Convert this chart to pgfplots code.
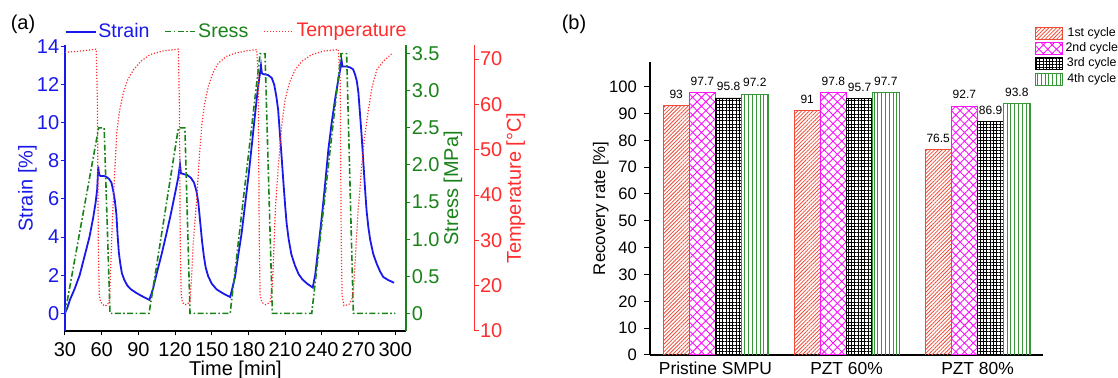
\documentclass[border=0pt]{standalone}
\usepackage{pgfplots}
\pgfplotsset{compat=1.18}
\usepackage{fontspec}
\setmainfont{Liberation Sans}
\usetikzlibrary{patterns.meta}
\definecolor{cblue}{RGB}{25,25,235}
\definecolor{cgreen}{RGB}{25,130,25}
\definecolor{cred}{RGB}{255,45,45}
\definecolor{bred}{RGB}{240,75,55}
\definecolor{bmag}{RGB}{250,20,250}
\definecolor{bgreen}{RGB}{55,150,55}
\pgfplotsset{
  boxlegend/.style={legend image code/.code={\draw[##1] (0pt,-3pt) rectangle (13.5pt,3pt);}},
  every axis/.append style={/pgf/number format/assume math mode=true},
}
\begin{document}
\begin{tikzpicture}
\useasboundingbox (0,0) rectangle (559pt,189pt);
\node[font=\fontsize{10}{12}\selectfont] at (11.5pt,177pt) {(a)};
\node[font=\fontsize{10}{12}\selectfont] at (287pt,177pt) {(b)};
% ---------- Strain axis
\begin{axis}[
  at={(32.5pt,23.5pt)}, anchor=south west, scale only axis,
  width=170.5pt, height=142.75pt,
  xmin=30, xmax=308.75, ymin=-0.93, ymax=14.05,
  axis x line*=bottom, axis y line*=left,
  tick align=outside, major tick length=2.2pt,
  xtick={30,60,90,120,150,180,210,240,270,300}, ytick={0,2,4,6,8,10,12,14},
  tick label style={font=\fontsize{10}{12}\selectfont},
  label style={font=\fontsize{10}{12}\selectfont},
  x axis line style={black, line width=0.6pt},
  y axis line style={cblue, line width=0.7pt},
  xtick style={black, line width=0.5pt},
  ytick style={cblue, line width=0.5pt},
  yticklabel style={cblue, inner sep=0.5pt},
  xlabel={Time [min]}, xlabel style={yshift=4.5pt},
  ylabel={Strain [\%]}, ylabel style={cblue}, ylabel shift=-4pt,
]
\addplot[cblue, line width=0.9pt, no marks] coordinates {
(30,0) (32,0.3) (34,0.7) (38,1.3) (42,2.0) (46,3.0) (50,4.0) (53,5.0) (55,5.8) (56.3,6.5) (57.2,7.7) (57.8,7.3) (59,7.2) (62,7.2) (64,7.15) (66,7.05) (68,6.85) (69.5,6.4) (70.8,5.9) (72,5.2) (73,4.1) (74,3.2) (75.2,2.6) (76.5,2.1) (78.5,1.75) (81,1.45) (84,1.25) (88,1.08) (92,0.93) (96,0.8) (99,0.7)
(102,1.3) (105,2.1) (109,3.1) (113,4.2) (116.5,5.2) (120,6.3) (122.5,7.1) (124,7.8) (124.8,7.35) (127,7.3) (130,7.25) (133,7.1) (135.5,6.85) (137.5,6.4) (139,5.8) (140.5,4.8) (142,3.8) (143.5,3.0) (145,2.4) (147,1.95) (150,1.55) (154,1.25) (159,1.05) (165,0.85)
(169,1.9) (171.5,3.0) (174.4,4.2) (177,5.6) (180,7.2) (182.5,8.7) (185.3,10.4) (187.5,11.7) (189.4,12.6) (190.2,13.0) (190.9,12.6) (192,12.55) (196,12.5) (199,12.35) (201,12.0) (202.7,11.4) (204.2,10.7) (205.8,9.3) (207.2,8.1) (208.5,6.9) (209.9,5.7) (211.2,4.7) (212.8,3.9) (215,3.1) (218,2.5) (221,2.05) (224,1.78) (228,1.55) (232.5,1.35)
(234.5,2.0) (237,3.4) (240,5.1) (242.5,6.7) (245.3,8.6) (248,10.0) (250.7,11.2) (253,12.1) (255,12.8) (256,13.3) (256.8,12.95) (260,12.95) (263,12.9) (265.5,12.8) (267,12.55) (268.5,12.2) (269.8,11.6) (271,10.6) (272.5,9.3) (274,7.8) (275.2,6.6) (276.5,5.4) (278,4.5) (279.5,3.85) (282,3.1) (284.8,2.6) (287.5,2.2) (290.2,1.9) (294,1.75) (299,1.6)
};
\end{axis}
% ---------- Stress axis
\begin{axis}[
  at={(32.5pt,23.5pt)}, anchor=south west, scale only axis,
  width=170.5pt, height=142.75pt,
  xmin=30, xmax=308.75, ymin=-0.238, ymax=3.61,
  axis x line=none, axis y line*=right,
  tick align=outside, major tick length=2.2pt,
  ytick={0,0.5,1,1.5,2,2.5,3,3.5}, yticklabels={0,0.5,1.0,1.5,2.0,2.5,3.0,3.5},
  tick label style={font=\fontsize{10}{12}\selectfont},
  label style={font=\fontsize{10}{12}\selectfont},
  y axis line style={cgreen, line width=0.7pt},
  ytick style={cgreen, line width=0.5pt},
  yticklabel style={cgreen, inner sep=0.5pt},
  ylabel={Stress [MPa]}, ylabel style={cgreen}, ylabel shift=-2pt,
]
\addplot[cgreen, line width=0.8pt, no marks, dash pattern=on 3pt off 1.2pt on 0.8pt off 1.2pt] coordinates {
(30,0) (57.5,2.5) (62,2.5) (66.8,0) (98.7,0) (122.7,2.5) (128,2.5) (132.2,0) (165,0) (189.5,3.5) (193.5,3.5) (199.5,0) (231.7,0) (255.6,3.5) (260.2,3.5) (265.7,0) (300,0)
};
\end{axis}
% ---------- Temperature axis (offset)
\begin{axis}[
  at={(32.5pt,23.5pt)}, anchor=south west, scale only axis,
  width=204.65pt, height=142.75pt,
  xmin=30, xmax=364.6, ymin=10, ymax=73,
  axis x line=none, axis y line*=right,
  tick align=outside, major tick length=2.2pt,
  ytick={10,20,30,40,50,60,70},
  tick label style={font=\fontsize{10}{12}\selectfont},
  label style={font=\fontsize{10}{12}\selectfont},
  y axis line style={cred, line width=0.7pt},
  ytick style={cred, line width=0.5pt},
  yticklabel style={cred, inner sep=0.5pt},
  ylabel={Temperature [°C]}, ylabel style={cred}, ylabel shift=-2pt,
  legend columns=3,
  legend style={at={(axis description cs:0.418,1)}, anchor=center, yshift=6.9pt, draw=none, fill=none,
    font=\fontsize{9.8}{11}\selectfont, inner sep=0pt, nodes={inner sep=0.5pt},
    /tikz/every odd column/.append style={column sep=0.5pt},
    /tikz/every even column/.append style={column sep=7pt}},
  legend image code/.code={\draw[#1] (0pt,0pt) -- (15pt,0pt);},
]
\addlegendimage{cblue, line width=0.9pt}
\addlegendentry{\textcolor{cblue}{Strain}}
\addlegendimage{cgreen, line width=0.8pt, dash pattern=on 3pt off 1.2pt on 0.8pt off 1.2pt}
\addlegendentry{\textcolor{cgreen}{Sress}}
\addplot[cred, line width=0.6pt, no marks, dash pattern=on 0.6pt off 0.9pt] coordinates {
(30,71.5) (40,71.7) (50,72.0) (55.5,72.2) (56.5,60) (57.2,30) (58,18) (59,16.5) (61,15.8) (63,15.5) (65,16.0) (66.5,17) (67.5,25) (68.5,33) (69.5,38.9) (71,47) (72.3,53.7) (74.5,58.5) (77.7,62.5) (81,65.3) (85.9,67.6) (92,69.5) (99.5,71) (110,71.8) (122.7,72.2)
(123.5,60) (124.2,30) (125,18) (126,16.3) (128,15.8) (130,15.9) (132.2,16.5) (133.5,22) (135,30) (137.6,38.9) (139.5,47) (141.7,55.1) (144,60) (147.2,64) (151,67) (155.3,69.1) (162,70.6) (169,71.3) (178,71.8) (186.7,72.1)
(188,65) (188.8,30) (189.5,18) (191,16.3) (194,15.8) (197.6,16.3) (199.5,20) (200.3,25) (202,37) (204.4,46.3) (207,55) (209.9,61) (213.5,64.8) (218,67.6) (224,69.6) (231.7,71) (242,71.8) (253.4,72.1)
(255,65) (255.8,30) (256.5,18) (258,15.6) (262,15.8) (264.5,17) (266,20) (267.1,25) (269.5,36) (272.5,46.3) (275,53) (278,58.8) (281,63.8) (284.8,67.6) (290.2,69.5) (297.1,71.2)
};
\addlegendentry{\textcolor{cred}{Temperature}}
\end{axis}
% ---------- Recovery rate bars
\begin{axis}[
  at={(325pt,11.5pt)}, anchor=south west, scale only axis,
  width=196.5pt, height=146.65pt,
  xmin=-0.5, xmax=2.5, ymin=0, ymax=109.3,
  axis x line*=bottom, axis y line*=left,
  axis line style={black, line width=0.6pt},
  tick align=outside, major tick length=3pt,
  xtick={0,1,2}, xticklabels={Pristine SMPU, PZT 60\%, PZT 80\%},
  xtick style={draw=none},
  ytick={0,10,20,30,40,50,60,70,80,90,100},
  ytick style={black, line width=0.5pt},
  yticklabel style={font=\fontsize{8.3}{10}\selectfont},
  xticklabel style={font=\fontsize{8.7}{10}\selectfont, yshift=3pt},
  ylabel={Recovery rate [\%]}, ylabel style={font=\fontsize{8.4}{10}\selectfont}, ylabel shift=-6.5pt,
  ybar, bar width=0.2,
  nodes near coords,
  every node near coord/.append style={font=\fontsize{6}{7}\selectfont, text=black},
  legend style={at={(axis description cs:0.978,1.122)}, anchor=north west, draw=none, fill=none,
    font=\fontsize{6.2}{7.2}\selectfont, inner sep=0pt, row sep=0.9pt, nodes={inner sep=0.4pt},
    /tikz/every odd column/.append style={column sep=1pt}},
]
\addplot[draw=bred, line width=0.4pt, pattern={Lines[angle=45,distance=1.35pt,line width=0.4pt]}, pattern color=bred, bar shift=-0.3, boxlegend] coordinates {(0,93) (1,91) (2,76.5)};
\addlegendentry{1st cycle}
\addplot[draw=bmag, line width=0.5pt, pattern={Hatch[angle=45,distance=3.1pt,line width=0.45pt]}, pattern color=bmag, bar shift=-0.1, boxlegend] coordinates {(0,97.7) (1,97.8) (2,92.7)};
\addlegendentry{2nd cycle}
\addplot[draw=black, line width=0.4pt, pattern={Hatch[angle=0,distance=1.65pt,line width=0.3pt]}, pattern color=black, bar shift=0.1, boxlegend] coordinates {(0,95.8) (1,95.7) (2,86.9)};
\addlegendentry{3rd cycle}
\addplot[draw=bgreen, line width=0.4pt, pattern={Lines[angle=90,distance=1.9pt,line width=0.35pt]}, pattern color=bgreen, bar shift=0.3, boxlegend] coordinates {(0,97.2) (1,97.7) (2,93.8)};
\addlegendentry{4th cycle}
\end{axis}
\end{tikzpicture}
\end{document}
